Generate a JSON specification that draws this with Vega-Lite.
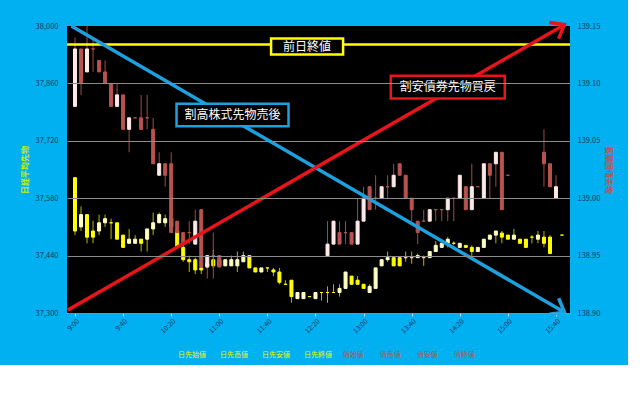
{
  "$schema": "https://vega.github.io/schema/vega-lite/v6.json",
  "autosize": "none",
  "width": 503,
  "height": 287,
  "padding": {"left": 67, "top": 26, "right": 58, "bottom": 52},
  "background": "#00B0F0",
  "config": {
    "view": {"stroke": null},
    "font": "Noto Sans CJK JP"
  },
  "datasets": {
    "nikkei": [
      {"t": "2024-01-04T09:00", "o": 37630, "h": 37630, "l": 37490, "c": 37500},
      {"t": "2024-01-04T09:05", "o": 37510, "h": 37560, "l": 37500, "c": 37540},
      {"t": "2024-01-04T09:10", "o": 37540, "h": 37540, "l": 37470, "c": 37485},
      {"t": "2024-01-04T09:15", "o": 37500, "h": 37525, "l": 37470, "c": 37485},
      {"t": "2024-01-04T09:20", "o": 37500, "h": 37540, "l": 37490, "c": 37520},
      {"t": "2024-01-04T09:25", "o": 37520, "h": 37540, "l": 37510, "c": 37530},
      {"t": "2024-01-04T09:30", "o": 37520, "h": 37530, "l": 37480, "c": 37520},
      {"t": "2024-01-04T09:35", "o": 37520, "h": 37520, "l": 37480, "c": 37480},
      {"t": "2024-01-04T09:40", "o": 37490, "h": 37490, "l": 37460, "c": 37460},
      {"t": "2024-01-04T09:45", "o": 37470, "h": 37505, "l": 37470, "c": 37480},
      {"t": "2024-01-04T09:50", "o": 37470, "h": 37490, "l": 37470, "c": 37480},
      {"t": "2024-01-04T09:55", "o": 37480, "h": 37480, "l": 37450, "c": 37470},
      {"t": "2024-01-04T10:00", "o": 37480, "h": 37505, "l": 37450, "c": 37505},
      {"t": "2024-01-04T10:05", "o": 37505, "h": 37545, "l": 37490, "c": 37520},
      {"t": "2024-01-04T10:10", "o": 37520, "h": 37545, "l": 37520, "c": 37540},
      {"t": "2024-01-04T10:15", "o": 37520, "h": 37540, "l": 37510, "c": 37530},
      {"t": "2024-01-04T10:20", "o": 37530, "h": 37535, "l": 37505, "c": 37510},
      {"t": "2024-01-04T10:25", "o": 37500, "h": 37520, "l": 37460, "c": 37460},
      {"t": "2024-01-04T10:30", "o": 37460, "h": 37470, "l": 37425, "c": 37430},
      {"t": "2024-01-04T10:35", "o": 37430, "h": 37440, "l": 37400, "c": 37425},
      {"t": "2024-01-04T10:40", "o": 37430, "h": 37435, "l": 37395, "c": 37405},
      {"t": "2024-01-04T10:45", "o": 37410, "h": 37415, "l": 37395, "c": 37405},
      {"t": "2024-01-04T10:50", "o": 37420, "h": 37425, "l": 37410, "c": 37415},
      {"t": "2024-01-04T10:55", "o": 37430, "h": 37455, "l": 37410, "c": 37415},
      {"t": "2024-01-04T11:00", "o": 37430, "h": 37430, "l": 37415, "c": 37415},
      {"t": "2024-01-04T11:05", "o": 37415, "h": 37430, "l": 37415, "c": 37430},
      {"t": "2024-01-04T11:10", "o": 37415, "h": 37440, "l": 37415, "c": 37430},
      {"t": "2024-01-04T11:15", "o": 37415, "h": 37450, "l": 37400, "c": 37430},
      {"t": "2024-01-04T11:20", "o": 37425, "h": 37450, "l": 37425, "c": 37440},
      {"t": "2024-01-04T11:25", "o": 37440, "h": 37440, "l": 37410, "c": 37410},
      {"t": "2024-01-04T11:30", "o": 37410, "h": 37410, "l": 37400, "c": 37400},
      {"t": "2024-01-04T11:35", "o": 37400, "h": 37410, "l": 37400, "c": 37410},
      {"t": "2024-01-04T11:40", "o": 37410, "h": 37410, "l": 37400, "c": 37410},
      {"t": "2024-01-04T11:45", "o": 37405, "h": 37410, "l": 37390, "c": 37400},
      {"t": "2024-01-04T11:50", "o": 37400, "h": 37410, "l": 37370, "c": 37375},
      {"t": "2024-01-04T11:55", "o": 37370, "h": 37380, "l": 37370, "c": 37370},
      {"t": "2024-01-04T12:00", "o": 37380, "h": 37380, "l": 37325, "c": 37340},
      {"t": "2024-01-04T12:05", "o": 37335, "h": 37350, "l": 37335, "c": 37350},
      {"t": "2024-01-04T12:10", "o": 37335, "h": 37350, "l": 37335, "c": 37350},
      {"t": "2024-01-04T12:15", "o": 37340, "h": 37340, "l": 37340, "c": 37340},
      {"t": "2024-01-04T12:20", "o": 37335, "h": 37350, "l": 37335, "c": 37350},
      {"t": "2024-01-04T12:25", "o": 37350, "h": 37350, "l": 37330, "c": 37350},
      {"t": "2024-01-04T12:30", "o": 37350, "h": 37365, "l": 37325, "c": 37350},
      {"t": "2024-01-04T12:35", "o": 37350, "h": 37370, "l": 37350, "c": 37350},
      {"t": "2024-01-04T12:40", "o": 37350, "h": 37370, "l": 37340, "c": 37360},
      {"t": "2024-01-04T12:45", "o": 37360, "h": 37400, "l": 37360, "c": 37400},
      {"t": "2024-01-04T12:50", "o": 37390, "h": 37390, "l": 37370, "c": 37370},
      {"t": "2024-01-04T12:55", "o": 37380, "h": 37390, "l": 37370, "c": 37370},
      {"t": "2024-01-04T13:00", "o": 37370, "h": 37370, "l": 37360, "c": 37360},
      {"t": "2024-01-04T13:05", "o": 37350, "h": 37370, "l": 37350, "c": 37365},
      {"t": "2024-01-04T13:10", "o": 37360, "h": 37410, "l": 37360, "c": 37410},
      {"t": "2024-01-04T13:15", "o": 37415, "h": 37430, "l": 37415, "c": 37430},
      {"t": "2024-01-04T13:20", "o": 37430, "h": 37450, "l": 37425, "c": 37435},
      {"t": "2024-01-04T13:25", "o": 37435, "h": 37435, "l": 37415, "c": 37415},
      {"t": "2024-01-04T13:30", "o": 37435, "h": 37435, "l": 37415, "c": 37415},
      {"t": "2024-01-04T13:35", "o": 37435, "h": 37450, "l": 37425, "c": 37435},
      {"t": "2024-01-04T13:40", "o": 37435, "h": 37450, "l": 37420, "c": 37435},
      {"t": "2024-01-04T13:45", "o": 37435, "h": 37445, "l": 37435, "c": 37440},
      {"t": "2024-01-04T13:50", "o": 37435, "h": 37440, "l": 37415, "c": 37435},
      {"t": "2024-01-04T13:55", "o": 37435, "h": 37450, "l": 37435, "c": 37450},
      {"t": "2024-01-04T14:00", "o": 37450, "h": 37475, "l": 37450, "c": 37465},
      {"t": "2024-01-04T14:05", "o": 37460, "h": 37470, "l": 37460, "c": 37470},
      {"t": "2024-01-04T14:10", "o": 37470, "h": 37485, "l": 37460, "c": 37480},
      {"t": "2024-01-04T14:15", "o": 37470, "h": 37475, "l": 37465, "c": 37470},
      {"t": "2024-01-04T14:20", "o": 37460, "h": 37470, "l": 37460, "c": 37470},
      {"t": "2024-01-04T14:25", "o": 37465, "h": 37465, "l": 37460, "c": 37460},
      {"t": "2024-01-04T14:30", "o": 37460, "h": 37465, "l": 37435, "c": 37450},
      {"t": "2024-01-04T14:35", "o": 37450, "h": 37460, "l": 37450, "c": 37460},
      {"t": "2024-01-04T14:40", "o": 37460, "h": 37480, "l": 37460, "c": 37480},
      {"t": "2024-01-04T14:45", "o": 37480, "h": 37490, "l": 37480, "c": 37490},
      {"t": "2024-01-04T14:50", "o": 37490, "h": 37500, "l": 37470, "c": 37500},
      {"t": "2024-01-04T14:55", "o": 37495, "h": 37500, "l": 37470, "c": 37485},
      {"t": "2024-01-04T15:00", "o": 37490, "h": 37490, "l": 37480, "c": 37480},
      {"t": "2024-01-04T15:05", "o": 37480, "h": 37505, "l": 37480, "c": 37490},
      {"t": "2024-01-04T15:10", "o": 37480, "h": 37480, "l": 37470, "c": 37470},
      {"t": "2024-01-04T15:15", "o": 37480, "h": 37480, "l": 37460, "c": 37460},
      {"t": "2024-01-04T15:20", "o": 37485, "h": 37490, "l": 37470, "c": 37485},
      {"t": "2024-01-04T15:25", "o": 37480, "h": 37500, "l": 37470, "c": 37490},
      {"t": "2024-01-04T15:30", "o": 37485, "h": 37500, "l": 37460, "c": 37470},
      {"t": "2024-01-04T15:35", "o": 37485, "h": 37490, "l": 37445, "c": 37445},
      {"t": "2024-01-04T15:45", "o": 37490, "h": 37490, "l": 37490, "c": 37490}
    ],
    "jgb": [
      {"t": "2024-01-04T09:00", "o": 139.08, "h": 139.14, "l": 139.08, "c": 139.13},
      {"t": "2024-01-04T09:05", "o": 139.13, "h": 139.13, "l": 139.09, "c": 139.10},
      {"t": "2024-01-04T09:10", "o": 139.11, "h": 139.15, "l": 139.11, "c": 139.13},
      {"t": "2024-01-04T09:15", "o": 139.13, "h": 139.14, "l": 139.11, "c": 139.13},
      {"t": "2024-01-04T09:20", "o": 139.12, "h": 139.12, "l": 139.11, "c": 139.11},
      {"t": "2024-01-04T09:25", "o": 139.11, "h": 139.12, "l": 139.10, "c": 139.10},
      {"t": "2024-01-04T09:30", "o": 139.10, "h": 139.10, "l": 139.08, "c": 139.08},
      {"t": "2024-01-04T09:35", "o": 139.08, "h": 139.10, "l": 139.08, "c": 139.09},
      {"t": "2024-01-04T09:40", "o": 139.09, "h": 139.09, "l": 139.06, "c": 139.06},
      {"t": "2024-01-04T09:45", "o": 139.06, "h": 139.07, "l": 139.04, "c": 139.07},
      {"t": "2024-01-04T09:50", "o": 139.07, "h": 139.07, "l": 139.07, "c": 139.07},
      {"t": "2024-01-04T09:55", "o": 139.07, "h": 139.09, "l": 139.06, "c": 139.06},
      {"t": "2024-01-04T10:00", "o": 139.07, "h": 139.09, "l": 139.06, "c": 139.07},
      {"t": "2024-01-04T10:05", "o": 139.06, "h": 139.07, "l": 139.03, "c": 139.03},
      {"t": "2024-01-04T10:10", "o": 139.02, "h": 139.04, "l": 139.02, "c": 139.03},
      {"t": "2024-01-04T10:15", "o": 139.03, "h": 139.03, "l": 139.01, "c": 139.02},
      {"t": "2024-01-04T10:20", "o": 139.03, "h": 139.04, "l": 138.97, "c": 138.97},
      {"t": "2024-01-04T10:25", "o": 138.98, "h": 138.98, "l": 138.97, "c": 138.97},
      {"t": "2024-01-04T10:30", "o": 138.97, "h": 138.97, "l": 138.96, "c": 138.96},
      {"t": "2024-01-04T10:35", "o": 138.97, "h": 138.98, "l": 138.96, "c": 138.97},
      {"t": "2024-01-04T10:40", "o": 138.96, "h": 138.99, "l": 138.96, "c": 138.98},
      {"t": "2024-01-04T10:45", "o": 138.99, "h": 138.99, "l": 138.94, "c": 138.94},
      {"t": "2024-01-04T10:50", "o": 138.94, "h": 138.95, "l": 138.93, "c": 138.95},
      {"t": "2024-01-04T10:55", "o": 138.95, "h": 138.97, "l": 138.93, "c": 138.95},
      {"t": "2024-01-04T11:00", "o": 138.95, "h": 138.95, "l": 138.94, "c": 138.94},
      {"t": "2024-01-04T12:30", "o": 138.95, "h": 138.98, "l": 138.95, "c": 138.96},
      {"t": "2024-01-04T12:35", "o": 138.96, "h": 138.98, "l": 138.96, "c": 138.98},
      {"t": "2024-01-04T12:40", "o": 138.97, "h": 138.98, "l": 138.96, "c": 138.96},
      {"t": "2024-01-04T12:45", "o": 138.97, "h": 138.98, "l": 138.96, "c": 138.97},
      {"t": "2024-01-04T12:50", "o": 138.97, "h": 138.97, "l": 138.96, "c": 138.96},
      {"t": "2024-01-04T12:55", "o": 138.96, "h": 139.00, "l": 138.96, "c": 138.98},
      {"t": "2024-01-04T13:00", "o": 138.98, "h": 139.01, "l": 138.98, "c": 139.00},
      {"t": "2024-01-04T13:05", "o": 139.01, "h": 139.01, "l": 138.99, "c": 138.99},
      {"t": "2024-01-04T13:10", "o": 139.00, "h": 139.02, "l": 138.99, "c": 139.00},
      {"t": "2024-01-04T13:15", "o": 139.00, "h": 139.01, "l": 139.00, "c": 139.01},
      {"t": "2024-01-04T13:20", "o": 139.01, "h": 139.02, "l": 139.00, "c": 139.01},
      {"t": "2024-01-04T13:25", "o": 139.01, "h": 139.03, "l": 139.01, "c": 139.02},
      {"t": "2024-01-04T13:30", "o": 139.03, "h": 139.03, "l": 139.02, "c": 139.02},
      {"t": "2024-01-04T13:35", "o": 139.02, "h": 139.02, "l": 139.00, "c": 139.00},
      {"t": "2024-01-04T13:40", "o": 139.00, "h": 139.00, "l": 138.98, "c": 138.99},
      {"t": "2024-01-04T13:45", "o": 138.98, "h": 138.98, "l": 138.96, "c": 138.97},
      {"t": "2024-01-04T13:50", "o": 138.98, "h": 138.99, "l": 138.98, "c": 138.98},
      {"t": "2024-01-04T13:55", "o": 138.98, "h": 138.99, "l": 138.98, "c": 138.99},
      {"t": "2024-01-04T14:00", "o": 138.99, "h": 138.99, "l": 138.98, "c": 138.99},
      {"t": "2024-01-04T14:05", "o": 138.99, "h": 138.99, "l": 138.98, "c": 138.99},
      {"t": "2024-01-04T14:10", "o": 138.99, "h": 139.00, "l": 138.98, "c": 139.00},
      {"t": "2024-01-04T14:15", "o": 139.00, "h": 139.00, "l": 138.98, "c": 139.00},
      {"t": "2024-01-04T14:20", "o": 139.00, "h": 139.02, "l": 139.00, "c": 139.02},
      {"t": "2024-01-04T14:25", "o": 139.01, "h": 139.01, "l": 138.99, "c": 138.99},
      {"t": "2024-01-04T14:30", "o": 138.99, "h": 139.03, "l": 138.99, "c": 139.01},
      {"t": "2024-01-04T14:35", "o": 139.01, "h": 139.01, "l": 139.01, "c": 139.01},
      {"t": "2024-01-04T14:40", "o": 139.00, "h": 139.03, "l": 139.00, "c": 139.03},
      {"t": "2024-01-04T14:45", "o": 139.03, "h": 139.03, "l": 139.00, "c": 139.02},
      {"t": "2024-01-04T14:50", "o": 139.03, "h": 139.04, "l": 139.01, "c": 139.04},
      {"t": "2024-01-04T14:55", "o": 139.04, "h": 139.04, "l": 138.99, "c": 138.99},
      {"t": "2024-01-04T15:00", "o": 139.02, "h": 139.02, "l": 139.02, "c": 139.02},
      {"t": "2024-01-04T15:30", "o": 139.04, "h": 139.06, "l": 139.01, "c": 139.03},
      {"t": "2024-01-04T15:35", "o": 139.03, "h": 139.03, "l": 139.01, "c": 139.01},
      {"t": "2024-01-04T15:40", "o": 139.00, "h": 139.02, "l": 139.00, "c": 139.01}
    ],
    "refline": [
      {"label": "前日終値", "v": 37955}
    ],
    "arrows": [
      {"arrow": "sell", "pos": "start", "t": "2024-01-04T08:57", "v": 38000},
      {"arrow": "sell", "pos": "end", "t": "2024-01-04T15:47", "v": 37302},
      {"arrow": "buy", "pos": "start", "t": "2024-01-04T08:54", "v": 37307},
      {"arrow": "buy", "pos": "end", "t": "2024-01-04T15:47", "v": 38003}
    ],
    "notes": [
      {"label": "前日終値", "kind": "prev", "t": "2024-01-04T12:13", "v": 37950},
      {"label": "割高株式先物売後", "kind": "sell", "t": "2024-01-04T11:11", "v": 37783},
      {"label": "割安債券先物買戻", "kind": "buy", "t": "2024-01-04T14:10", "v": 37851}
    ],
    "legend": [
      {"name": "日先始値", "series": "nikkei"},
      {"name": "日先高値", "series": "nikkei"},
      {"name": "日先安値", "series": "nikkei"},
      {"name": "日先終値", "series": "nikkei"},
      {"name": "債始値", "series": "jgb"},
      {"name": "債高値", "series": "jgb"},
      {"name": "債安値", "series": "jgb"},
      {"name": "債終値", "series": "jgb"}
    ]
  },
  "resolve": {"scale": {"y": "independent"}},
  "layer": [
    {
      "data": {"name": "refline"},
      "mark": {"type": "rect", "color": "#000000", "opacity": 1},
      "encoding": {}
    },
    {
      "data": {"name": "nikkei"},
      "mark": {"type": "rule", "color": "#B5B500", "strokeWidth": 1},
      "encoding": {
        "x": {
          "field": "t",
          "type": "temporal",
          "scale": {"nice": false, "domain": [
            {"year": 2024, "month": 1, "date": 4, "hours": 8, "minutes": 57, "seconds": 30},
            {"year": 2024, "month": 1, "date": 4, "hours": 15, "minutes": 47, "seconds": 30}
          ]},
          "axis": {
            "title": null,
            "format": "%-H:%M",
            "values": [
              {"year": 2024, "month": 1, "date": 4, "hours": 9, "minutes": 0},
              {"year": 2024, "month": 1, "date": 4, "hours": 9, "minutes": 10},
              {"year": 2024, "month": 1, "date": 4, "hours": 9, "minutes": 20},
              {"year": 2024, "month": 1, "date": 4, "hours": 9, "minutes": 30},
              {"year": 2024, "month": 1, "date": 4, "hours": 9, "minutes": 40},
              {"year": 2024, "month": 1, "date": 4, "hours": 9, "minutes": 50},
              {"year": 2024, "month": 1, "date": 4, "hours": 10, "minutes": 0},
              {"year": 2024, "month": 1, "date": 4, "hours": 10, "minutes": 10},
              {"year": 2024, "month": 1, "date": 4, "hours": 10, "minutes": 20},
              {"year": 2024, "month": 1, "date": 4, "hours": 10, "minutes": 30},
              {"year": 2024, "month": 1, "date": 4, "hours": 10, "minutes": 40},
              {"year": 2024, "month": 1, "date": 4, "hours": 10, "minutes": 50},
              {"year": 2024, "month": 1, "date": 4, "hours": 11, "minutes": 0},
              {"year": 2024, "month": 1, "date": 4, "hours": 11, "minutes": 10},
              {"year": 2024, "month": 1, "date": 4, "hours": 11, "minutes": 20},
              {"year": 2024, "month": 1, "date": 4, "hours": 11, "minutes": 30},
              {"year": 2024, "month": 1, "date": 4, "hours": 11, "minutes": 40},
              {"year": 2024, "month": 1, "date": 4, "hours": 11, "minutes": 50},
              {"year": 2024, "month": 1, "date": 4, "hours": 12, "minutes": 0},
              {"year": 2024, "month": 1, "date": 4, "hours": 12, "minutes": 10},
              {"year": 2024, "month": 1, "date": 4, "hours": 12, "minutes": 20},
              {"year": 2024, "month": 1, "date": 4, "hours": 12, "minutes": 30},
              {"year": 2024, "month": 1, "date": 4, "hours": 12, "minutes": 40},
              {"year": 2024, "month": 1, "date": 4, "hours": 12, "minutes": 50},
              {"year": 2024, "month": 1, "date": 4, "hours": 13, "minutes": 0},
              {"year": 2024, "month": 1, "date": 4, "hours": 13, "minutes": 10},
              {"year": 2024, "month": 1, "date": 4, "hours": 13, "minutes": 20},
              {"year": 2024, "month": 1, "date": 4, "hours": 13, "minutes": 30},
              {"year": 2024, "month": 1, "date": 4, "hours": 13, "minutes": 40},
              {"year": 2024, "month": 1, "date": 4, "hours": 13, "minutes": 50},
              {"year": 2024, "month": 1, "date": 4, "hours": 14, "minutes": 0},
              {"year": 2024, "month": 1, "date": 4, "hours": 14, "minutes": 10},
              {"year": 2024, "month": 1, "date": 4, "hours": 14, "minutes": 20},
              {"year": 2024, "month": 1, "date": 4, "hours": 14, "minutes": 30},
              {"year": 2024, "month": 1, "date": 4, "hours": 14, "minutes": 40},
              {"year": 2024, "month": 1, "date": 4, "hours": 14, "minutes": 50},
              {"year": 2024, "month": 1, "date": 4, "hours": 15, "minutes": 0},
              {"year": 2024, "month": 1, "date": 4, "hours": 15, "minutes": 10},
              {"year": 2024, "month": 1, "date": 4, "hours": 15, "minutes": 20},
              {"year": 2024, "month": 1, "date": 4, "hours": 15, "minutes": 30},
              {"year": 2024, "month": 1, "date": 4, "hours": 15, "minutes": 40}
            ],
            "labelAngle": -45,
            "labelFontSize": 7,
            "labelColor": "#1F3864",
            "labelPadding": 1,
            "tickSize": 3,
            "tickColor": "#D9D9D9",
            "domainColor": "#D9D9D9",
            "grid": false
          }
        },
        "y": {
          "field": "l",
          "type": "quantitative",
          "scale": {"domain": [37300, 38000], "zero": false, "nice": false},
          "axis": {
            "title": "日経平均先物",
            "values": [37300, 37440, 37580, 37720, 37860, 38000],
            "labelFontSize": 7.5,
            "labelColor": "#1F3864",
            "labelPadding": 9,
            "tickSize": 0,
            "domain": false,
            "grid": true,
            "gridColor": {"condition": {"test": "datum.value >= 38000", "value": "transparent"}, "value": "#8C8C8C"},
            "zindex": 1,
            "titleColor": "#CCEE00",
            "titleFontSize": 8,
            "titlePadding": 6
          }
        },
        "y2": {"field": "h"}
      }
    },
    {
      "data": {"name": "nikkei"},
      "mark": {"type": "bar", "size": 3, "strokeWidth": 1, "opacity": 1},
      "encoding": {
        "x": {"field": "t", "type": "temporal"},
        "y": {"field": "o", "type": "quantitative", "scale": {"domain": [37300, 38000], "zero": false, "nice": false}, "axis": null},
        "y2": {"field": "c"},
        "fill": {"condition": {"test": "datum.c > datum.o", "value": "#FFFFC4"}, "value": "#FFFF00"},
        "stroke": {"condition": {"test": "datum.c > datum.o", "value": "#FFFFC4"}, "value": "#FFFF00"}
      }
    },
    {
      "data": {"name": "jgb"},
      "mark": {"type": "rule", "color": "#9E4A4A", "strokeWidth": 1},
      "encoding": {
        "x": {"field": "t", "type": "temporal"},
        "y": {
          "field": "l",
          "type": "quantitative",
          "scale": {"domain": [138.9, 139.15], "zero": false, "nice": false},
          "axis": {
            "orient": "right",
            "title": "長期国債先物",
            "values": [138.9, 138.95, 139, 139.05, 139.1, 139.15],
            "format": ".2f",
            "labelFontSize": 7.5,
            "labelColor": "#1F3864",
            "labelPadding": 7,
            "tickSize": 0,
            "domain": false,
            "grid": false,
            "titleColor": "#C0504D",
            "titleFontSize": 8,
            "titlePadding": 4
          }
        },
        "y2": {"field": "h"}
      }
    },
    {
      "data": {"name": "jgb"},
      "mark": {"type": "bar", "size": 3, "strokeWidth": 1, "opacity": 1},
      "encoding": {
        "x": {"field": "t", "type": "temporal"},
        "y": {"field": "o", "type": "quantitative", "scale": {"domain": [138.9, 139.15], "zero": false, "nice": false}, "axis": null},
        "y2": {"field": "c"},
        "fill": {"condition": {"test": "datum.c > datum.o", "value": "#FFE8E8"}, "value": "#B9534F"},
        "stroke": {"condition": {"test": "datum.c > datum.o", "value": "#FFE8E8"}, "value": "#B9534F"}
      }
    },
    {
      "data": {"name": "refline"},
      "mark": {"type": "rule", "color": "#FFFF00", "strokeWidth": 2.5},
      "encoding": {
        "y": {"field": "v", "type": "quantitative", "scale": {"domain": [37300, 38000], "zero": false, "nice": false}, "axis": null}
      }
    },
    {
      "data": {"name": "arrows"},
      "mark": {"type": "line", "strokeWidth": 3.5},
      "encoding": {
        "x": {"field": "t", "type": "temporal"},
        "y": {"field": "v", "type": "quantitative", "scale": {"domain": [37300, 38000], "zero": false, "nice": false}, "axis": null},
        "detail": {"field": "arrow", "type": "nominal"},
        "color": {"condition": {"test": "datum.arrow === 'sell'", "value": "#1DA1DE"}, "value": "#E8141B"}
      }
    },
    {
      "data": {"name": "arrows"},
      "transform": [{"filter": "datum.arrow === 'sell' && datum.pos === 'end'"}],
      "mark": {"type": "point", "shape": "M-0.7,0.9L0,0L0.7,0.9", "filled": false, "color": "#1DA1DE", "strokeWidth": 3.5, "size": 700, "angle": 119.7, "opacity": 1},
      "encoding": {
        "x": {"field": "t", "type": "temporal"},
        "y": {"field": "v", "type": "quantitative", "scale": {"domain": [37300, 38000], "zero": false, "nice": false}, "axis": null}
      }
    },
    {
      "data": {"name": "arrows"},
      "transform": [{"filter": "datum.arrow === 'buy' && datum.pos === 'end'"}],
      "mark": {"type": "point", "shape": "M-0.7,0.9L0,0L0.7,0.9", "filled": false, "color": "#E8141B", "strokeWidth": 3.5, "size": 700, "angle": 60.6, "opacity": 1},
      "encoding": {
        "x": {"field": "t", "type": "temporal"},
        "y": {"field": "v", "type": "quantitative", "scale": {"domain": [37300, 38000], "zero": false, "nice": false}, "axis": null}
      }
    },
    {
      "data": {"name": "notes"},
      "transform": [{"filter": "datum.kind === 'prev'"}],
      "mark": {"type": "point", "shape": "M-1,-0.22L1,-0.22L1,0.22L-1,0.22Z", "filled": true, "fill": "#000000", "stroke": "#FFFF00", "strokeWidth": 2.5, "size": 5184, "opacity": 1},
      "encoding": {
        "x": {"field": "t", "type": "temporal"},
        "y": {"field": "v", "type": "quantitative", "scale": {"domain": [37300, 38000], "zero": false, "nice": false}, "axis": null}
      }
    },
    {
      "data": {"name": "notes"},
      "transform": [{"filter": "datum.kind === 'sell'"}],
      "mark": {"type": "point", "shape": "M-1,-0.2L1,-0.2L1,0.2L-1,0.2Z", "filled": true, "fill": "#000000", "stroke": "#1DA1DE", "strokeWidth": 2.5, "size": 12544, "opacity": 1},
      "encoding": {
        "x": {"field": "t", "type": "temporal"},
        "y": {"field": "v", "type": "quantitative", "scale": {"domain": [37300, 38000], "zero": false, "nice": false}, "axis": null}
      }
    },
    {
      "data": {"name": "notes"},
      "transform": [{"filter": "datum.kind === 'buy'"}],
      "mark": {"type": "point", "shape": "M-1,-0.2L1,-0.2L1,0.2L-1,0.2Z", "filled": true, "fill": "#000000", "stroke": "#E8141B", "strokeWidth": 2.5, "size": 12996, "opacity": 1},
      "encoding": {
        "x": {"field": "t", "type": "temporal"},
        "y": {"field": "v", "type": "quantitative", "scale": {"domain": [37300, 38000], "zero": false, "nice": false}, "axis": null}
      }
    },
    {
      "data": {"name": "notes"},
      "mark": {"type": "text", "color": "#FFFFFF", "fontSize": 12, "align": "center", "baseline": "middle"},
      "encoding": {
        "x": {"field": "t", "type": "temporal"},
        "y": {"field": "v", "type": "quantitative", "scale": {"domain": [37300, 38000], "zero": false, "nice": false}, "axis": null},
        "text": {"field": "label", "type": "nominal"}
      }
    },
    {
      "data": {"name": "legend"},
      "transform": [{"filter": "datum.series === 'nikkei'"}],
      "mark": {"type": "point", "opacity": 0},
      "encoding": {
        "color": {
          "field": "name",
          "type": "nominal",
          "scale": {"domain": ["日先始値", "日先高値", "日先安値", "日先終値"], "range": ["#FFFF00", "#FFFF00", "#FFFF00", "#FFFF00"]},
          "legend": {
            "orient": "none",
            "legendX": 104,
            "legendY": 325,
            "direction": "horizontal",
            "columns": 4,
            "title": null,
            "symbolSize": 1,
            "symbolOpacity": 0,
            "labelOffset": 0,
            "columnPadding": 7,
            "labelFontSize": 7,
            "labelColor": "#F2F200"
          }
        }
      }
    },
    {
      "data": {"name": "legend"},
      "transform": [{"filter": "datum.series === 'jgb'"}],
      "mark": {"type": "point", "opacity": 0},
      "encoding": {
        "shape": {
          "field": "name",
          "type": "nominal",
          "scale": {"domain": ["債始値", "債高値", "債安値", "債終値"]},
          "legend": {
            "orient": "none",
            "legendX": 269,
            "legendY": 325,
            "direction": "horizontal",
            "columns": 4,
            "title": null,
            "symbolSize": 1,
            "symbolOpacity": 0,
            "labelOffset": 0,
            "columnPadding": 9,
            "labelFontSize": 7,
            "labelColor": "#C0504D"
          }
        }
      }
    }
  ]
}
